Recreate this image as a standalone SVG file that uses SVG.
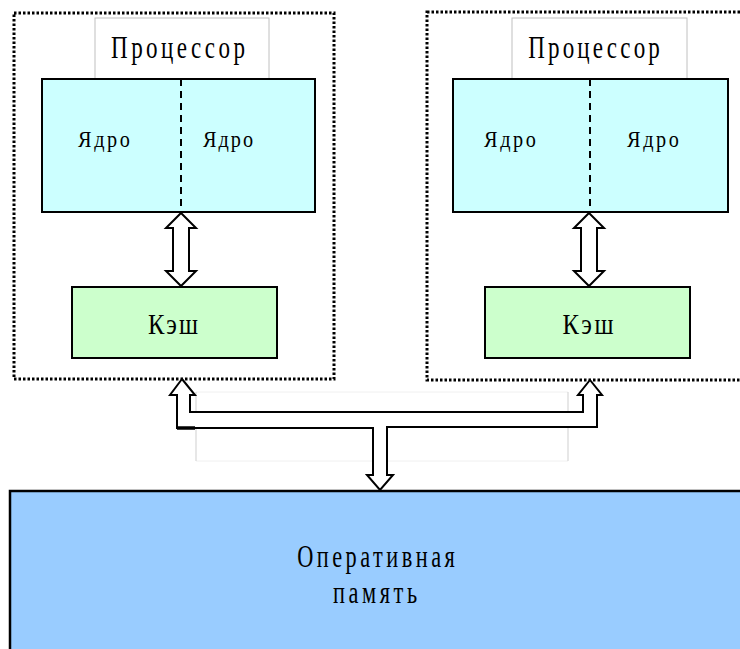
<svg xmlns="http://www.w3.org/2000/svg" width="740" height="649" viewBox="0 0 740 649">
  <style>
    .frame { fill: none; stroke: #000; stroke-width: 3; stroke-dasharray: 2.5 2; }
    .label-box { fill: #fff; stroke: #c0c0c0; stroke-width: 1; }
    .core { fill: #ccffff; stroke: #000; stroke-width: 2; }
    .cache { fill: #ccffcc; stroke: #000; stroke-width: 2; }
    .mem { fill: #99ccff; stroke: #000; stroke-width: 2.5; }
    .split { stroke: #000; stroke-width: 2; stroke-dasharray: 7 5; }
    .arrow { fill: #fff; stroke: #000; stroke-width: 2; stroke-linejoin: miter; }
    .txt { font-family: "Liberation Serif", "Times New Roman", serif; fill: #000; text-anchor: middle; }
    .ghost { stroke: #cfcfcf; stroke-width: 1; fill: none; }
    .ghost-h { stroke: #f0f0f0; stroke-width: 1; fill: none; }
  </style>

  <!-- faint guide lines under the bus -->
  <g id="bus-guides">
    <line class="ghost-h" x1="196" y1="392" x2="568" y2="392"/>
    <line class="ghost-h" x1="196" y1="461" x2="568" y2="461"/>
    <line class="ghost" x1="196" y1="392" x2="196" y2="461"/>
    <line class="ghost" x1="568" y1="392" x2="568" y2="461"/>
  </g>

  <!-- left processor -->
  <g id="cpu-left">
    <rect class="frame" x="14" y="13" width="320" height="366"/>
    <rect class="label-box" x="95" y="18" width="174" height="61"/>
    <text class="txt" font-size="32" transform="translate(178,58) scale(0.72,1)" textLength="186" lengthAdjust="spacing">Процессор</text>
    <rect class="core" x="42" y="79" width="273" height="133"/>
    <line class="split" x1="181" y1="79" x2="181" y2="212"/>
    <text class="txt" font-size="23" transform="translate(104,147) scale(0.88,1)" textLength="59" lengthAdjust="spacing">Ядро</text>
    <text class="txt" font-size="23" transform="translate(228,147) scale(0.88,1)" textLength="57" lengthAdjust="spacing">Ядро</text>
  </g>
  <g id="cache-left">
    <rect class="cache" x="72" y="287" width="205" height="71"/>
    <text class="txt" font-size="29" transform="translate(173,334) scale(0.85,1)" textLength="59" lengthAdjust="spacing">Кэш</text>
  </g>

  <!-- right processor -->
  <g id="cpu-right">
    <rect class="frame" x="427" y="12" width="330" height="368"/>
    <rect class="label-box" x="512" y="18" width="175" height="61"/>
    <text class="txt" font-size="32" transform="translate(594,58) scale(0.72,1)" textLength="183" lengthAdjust="spacing">Процессор</text>
    <rect class="core" x="453" y="79" width="275" height="133"/>
    <line class="split" x1="590" y1="79" x2="590" y2="212"/>
    <text class="txt" font-size="23" transform="translate(510,147) scale(0.88,1)" textLength="59" lengthAdjust="spacing">Ядро</text>
    <text class="txt" font-size="23" transform="translate(653,147) scale(0.88,1)" textLength="59" lengthAdjust="spacing">Ядро</text>
  </g>
  <g id="cache-right">
    <rect class="cache" x="485" y="287" width="205" height="71"/>
    <text class="txt" font-size="29" transform="translate(588,334) scale(0.85,1)" textLength="60" lengthAdjust="spacing">Кэш</text>
  </g>

  <!-- main memory -->
  <g id="memory">
    <rect class="mem" x="10" y="491" width="760" height="180"/>
    <text class="txt" font-size="31" transform="translate(376,567) scale(0.72,1)" textLength="219" lengthAdjust="spacing">Оперативная</text>
    <text class="txt" font-size="31" transform="translate(375,603) scale(0.72,1)" textLength="117" lengthAdjust="spacing">память</text>
  </g>

  <!-- connectors -->
  <g id="connectors">
    <!-- core block to cache, left -->
    <polygon class="arrow" points="181,213 196,228 189,228 189,271 196,271 181,286 166,271 173,271 173,228 166,228"/>
    <!-- core block to cache, right -->
    <polygon class="arrow" points="589,213 604,228 597,228 597,271 604,271 589,286 574,271 581,271 581,228 574,228"/>
    <!-- shared bus between both processors and memory -->
    <polygon class="arrow" points="182,379 195,395 190,395 190,412 583,412 583,395 578,395 590,380 602,395 597,395 597,427 387,427 387,475 393,475 380,490 367,475 373,475 373,428 177,428 177,395 170,395"/>
    <line x1="177" y1="428" x2="195" y2="428" stroke="#000" stroke-width="3.5"/>
  </g>
</svg>
